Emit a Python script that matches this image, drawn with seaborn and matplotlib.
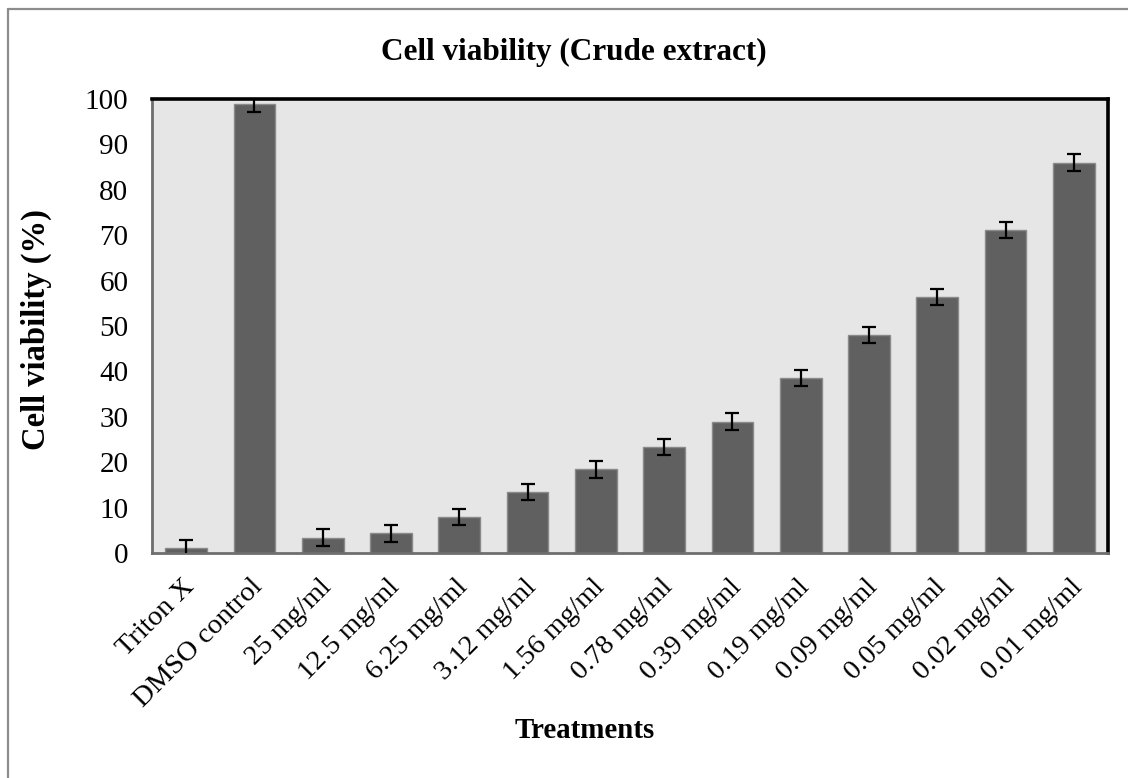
import matplotlib
matplotlib.use("Agg")
import matplotlib.pyplot as plt
import matplotlib.lines as mlines
import matplotlib.transforms as mtransforms
import numpy as np
import pandas as pd
import seaborn as sns

# Treatments and measured viability (mean and error)
treatments = ["Triton X", "DMSO control", "25 mg/ml", "12.5 mg/ml", "6.25 mg/ml",
              "3.12 mg/ml", "1.56 mg/ml", "0.78 mg/ml", "0.39 mg/ml", "0.19 mg/ml",
              "0.09 mg/ml", "0.05 mg/ml", "0.02 mg/ml", "0.01 mg/ml"]
viability = [1.0, 98.9, 3.4, 4.3, 8.0, 13.4, 18.4, 23.4, 28.9, 38.6, 48.0, 56.4, 71.1, 86.0]
errors = [1.8, 1.8, 1.8, 1.8, 1.8, 1.8, 1.8, 1.8, 1.9, 1.8, 1.8, 1.8, 1.8, 1.8]
y_ticks = [0, 10, 20, 30, 40, 50, 60, 70, 80, 90, 100]

df = pd.DataFrame({"Treatment": treatments, "Viability": viability, "Err": errors})

sns.set_style("white")
plt.rcParams["font.family"] = ["Liberation Serif", "DejaVu Serif"]
plt.rcParams["text.color"] = "black"
plt.rcParams["xtick.labelcolor"] = "black"
plt.rcParams["ytick.labelcolor"] = "black"

W, H = 1128, 778
fig = plt.figure(figsize=(W / 100, H / 100), dpi=100)
fig.patch.set_facecolor("white")

# outer chart frame (top and left edges fall inside the canvas)
frame_col = "#8c8c8c"
fig.add_artist(mlines.Line2D([8 / W, 8 / W], [0, 1 - 9 / H], color=frame_col, lw=1.6,
                             transform=fig.transFigure))
fig.add_artist(mlines.Line2D([8 / W, 1], [1 - 9 / H, 1 - 9 / H], color=frame_col, lw=1.6,
                             transform=fig.transFigure))

left, right, top, bottom = 152, 1108, 99, 553
ax = fig.add_axes([left / W, 1 - bottom / H, (right - left) / W, (bottom - top) / H])
ax.set_facecolor("#e6e6e6")

sns.barplot(data=df, x="Treatment", y="Viability", color="#606060", width=0.61,
            edgecolor="#8a8a8a", linewidth=1.0, saturation=1, errorbar=None, ax=ax)

xpos = np.arange(len(treatments))
ax.errorbar(xpos, df["Viability"], yerr=df["Err"], fmt="none", ecolor="black",
            elinewidth=1.6, capsize=5.2, capthick=1.6, zorder=5)

ax.set_ylim(0, 100)
ax.set_xlim(-0.5, len(treatments) - 0.5)
ax.set_yticks(y_ticks)
ax.set_yticklabels([str(v) for v in y_ticks], fontsize=21)

# category ticks sit between bars
ax.set_xticks(xpos)
ax.set_xticks(np.arange(-0.5, len(treatments)), minor=True)
ax.tick_params(axis="x", which="major", length=0, pad=4)
ax.tick_params(axis="x", which="minor", length=6, width=1.2, color="#8c8c8c", direction="out")
ax.tick_params(axis="y", which="major", length=7, width=1.2, color="#8c8c8c", direction="out", pad=10)

ax.set_xticklabels(treatments, fontsize=20.5, rotation=45, ha="right", va="top",
                   rotation_mode="anchor")
offset = mtransforms.ScaledTranslation(-4 / 100, -16 / 100, fig.dpi_scale_trans)
for lbl in ax.get_xticklabels():
    lbl.set_transform(lbl.get_transform() + offset)

for side in ["top", "right"]:
    ax.spines[side].set_color("black")
    ax.spines[side].set_linewidth(2.6)
for side in ["left", "bottom"]:
    ax.spines[side].set_color("#6e6e6e")
    ax.spines[side].set_linewidth(2.0)

ax.set_xlabel("")
ax.set_ylabel("")

fig.text(574 / W, 1 - 52 / H, "Cell viability (Crude extract)", fontsize=22.5,
         fontweight="bold", ha="center", va="center")
fig.text(585 / W, 1 - 730 / H, "Treatments", fontsize=20.8, fontweight="bold",
         ha="center", va="center")
fig.text(36 / W, 1 - 330 / H, "Cell viability (%)", fontsize=23.5, fontweight="bold",
         ha="center", va="center", rotation=90)

fig.savefig("out.png", dpi=100, facecolor="white")
